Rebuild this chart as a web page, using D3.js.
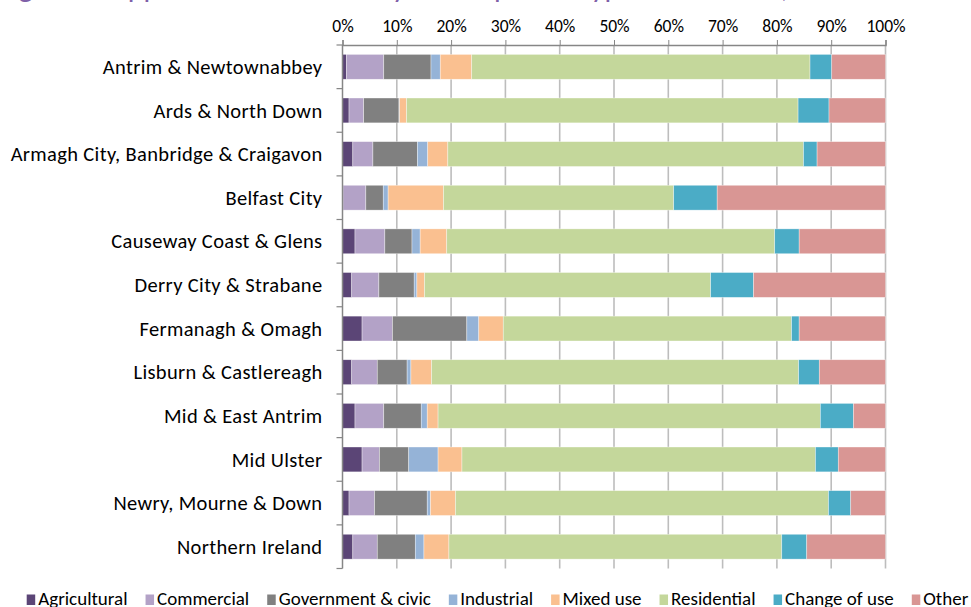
<!DOCTYPE html>
<html>
<head>
<meta charset="utf-8">
<script src="https://cdn.jsdelivr.net/npm/d3@7"></script>
<style>
  html, body { margin: 0; padding: 0; background: #fff; }
  svg { display: block; }
  text { font-family: Carlito, Calibri, Lato, "Noto Sans", sans-serif; fill: #000; }
</style>
</head>
<body>
<div class="chart"></div>
<script>
// categories (top to bottom)
var councils = [
  "Antrim & Newtownabbey",
  "Ards & North Down",
  "Armagh City, Banbridge & Craigavon",
  "Belfast City",
  "Causeway Coast & Glens",
  "Derry City & Strabane",
  "Fermanagh & Omagh",
  "Lisburn & Castlereagh",
  "Mid & East Antrim",
  "Mid Ulster",
  "Newry, Mourne & Down",
  "Northern Ireland"
];

// series, percentages (same order as councils)
var agricultural = [0.7, 1.2, 1.9, 0.1, 2.3, 1.7, 3.6, 1.7, 2.3, 3.6, 1.2, 1.9];
var commercial   = [6.9, 2.7, 3.7, 4.2, 5.5, 5.0, 5.6, 4.7, 5.3, 3.2, 4.7, 4.5];
var government   = [8.7, 6.5, 8.2, 3.2, 5.0, 6.5, 13.7, 5.5, 6.9, 5.4, 9.7, 7.0];
var industrial   = [1.7, 0.1, 1.9, 0.9, 1.5, 0.5, 2.2, 0.7, 1.1, 5.4, 0.6, 1.6];
var mixedUse     = [5.8, 1.3, 3.7, 10.2, 4.9, 1.4, 4.5, 3.8, 2.0, 4.4, 4.6, 4.6];
var residential  = [62.3, 72.1, 65.5, 42.4, 60.4, 52.7, 53.1, 67.6, 70.4, 65.1, 68.7, 61.3];
var changeOfUse  = [4.0, 5.7, 2.5, 8.0, 4.5, 7.9, 1.4, 3.8, 6.1, 4.2, 4.1, 4.6];
var other        = [9.9, 10.4, 12.6, 31.0, 15.9, 24.3, 15.9, 12.2, 5.9, 8.7, 6.4, 14.5];

var seriesNames = ["Agricultural", "Commercial", "Government & civic", "Industrial",
                   "Mixed use", "Residential", "Change of use", "Other"];
var seriesValues = [agricultural, commercial, government, industrial,
                    mixedUse, residential, changeOfUse, other];
var seriesColors = ["#5b4576", "#b3a2c7", "#808080", "#95b3d7",
                    "#fac090", "#c4d79b", "#4bacc6", "#d99694"];
var tickValues = [0, 0.1, 0.2, 0.3, 0.4, 0.5, 0.6, 0.7, 0.8, 0.9, 1];

var width = 971, height = 607;
var plotLeft = 342.5, plotRight = 885.5, plotTop = 45, plotBottom = 568.5;

var rows = councils.map(function(c, i) {
  var r = { council: c };
  seriesNames.forEach(function(s, j) { r[s] = seriesValues[j][i]; });
  return r;
});

var stacked = d3.stack()
  .keys(seriesNames)
  .offset(d3.stackOffsetExpand)(rows);

var x = d3.scaleLinear().domain([0, 1]).range([plotLeft, plotRight]);
var y = d3.scaleBand().domain(councils).range([plotTop, plotBottom])
  .paddingInner(0.43).paddingOuter(0.215);
var color = d3.scaleOrdinal().domain(seriesNames).range(seriesColors);

var svg = d3.select(".chart").append("svg")
  .attr("width", width)
  .attr("height", height);

// title, mostly cut off at the top of the picture
svg.append("text")
  .attr("x", -2)
  .attr("y", -3)
  .style("font-size", "30px")
  .style("fill", "#7f60a8")
  .text("Figure 4: Applications received by development type and council, 2017/18");

// vertical gridlines
svg.append("g").attr("id", "grid").selectAll("line")
  .data(tickValues.slice(1))
  .enter().append("line")
    .attr("x1", function(d) { return x(d); })
    .attr("x2", function(d) { return x(d); })
    .attr("y1", plotTop)
    .attr("y2", plotBottom)
    .attr("stroke", "#bdbdbd")
    .attr("stroke-width", 1.6);

// bars
var groups = svg.append("g").attr("id", "bars").selectAll("g")
  .data(stacked)
  .enter().append("g")
    .attr("fill", function(d) { return color(d.key); });

groups.selectAll("rect")
  .data(function(d) { return d; })
  .enter().append("rect")
    .attr("x", function(d) { return x(d[0]); })
    .attr("width", function(d) { return Math.max(0, x(d[1]) - x(d[0])); })
    .attr("y", function(d) { return y(d.data.council); })
    .attr("height", y.bandwidth())
    .attr("stroke", "#ffffff")
    .attr("stroke-opacity", 0.6)
    .attr("stroke-width", 0.6);

// top axis
var xAxis = d3.axisTop(x)
  .tickValues(tickValues)
  .tickFormat(d3.format(".0%"))
  .tickSize(5)
  .tickPadding(8);

var gx = svg.append("g")
  .attr("transform", "translate(0," + plotTop + ")")
  .call(xAxis);
gx.select(".domain").attr("stroke", "#868686").attr("stroke-width", 1.5);
gx.selectAll(".tick line").attr("stroke", "#868686");
gx.selectAll(".tick text")
  .style("font-size", "17.5px")
  .style("font-family", "Carlito, Calibri, Lato, sans-serif")
  .attr("fill", "#000");

// left axis: ticks sit between the categories
var step = y.step();
var boundaries = d3.range(councils.length + 1);
var gy = svg.append("g").attr("id", "yaxis");
gy.append("line")
  .attr("x1", plotLeft).attr("x2", plotLeft)
  .attr("y1", plotTop).attr("y2", plotBottom)
  .attr("stroke", "#868686").attr("stroke-width", 1.5);
gy.selectAll("line.tk")
  .data(boundaries)
  .enter().append("line")
    .attr("class", "tk")
    .attr("x1", plotLeft - 6).attr("x2", plotLeft)
    .attr("y1", function(i) { return plotTop + i * step; })
    .attr("y2", function(i) { return plotTop + i * step; })
    .attr("stroke", "#868686").attr("stroke-width", 1.2);
gy.selectAll("text")
  .data(councils)
  .enter().append("text")
    .attr("x", plotLeft - 20)
    .attr("y", function(d) { return y(d) + y.bandwidth() / 2; })
    .attr("dy", "0.35em")
    .attr("text-anchor", "end")
    .style("font-size", "20.5px")
    .style("letter-spacing", "0.35px")
    .text(function(d) { return d; });

// legend, centred under the plot
var legend = svg.append("g").attr("id", "legend");
var items = legend.selectAll("g")
  .data(seriesNames)
  .enter().append("g");
items.append("rect")
  .attr("x", 0).attr("y", -10.5)
  .attr("width", 8.5).attr("height", 10.5)
  .attr("fill", function(d) { return color(d); });
items.append("text")
  .attr("x", 11.5).attr("y", 0)
  .style("font-size", "19px")
  .text(function(d) { return d; });

var cursor = 0;
items.each(function() {
  var g = d3.select(this);
  var w = g.select("text").node().getComputedTextLength();
  g.attr("transform", "translate(" + cursor + ",0)");
  cursor += 11.5 + w + 18;
});
var total = cursor - 18;
legend.attr("transform", "translate(" + (497.5 - total / 2) + ",605)");
</script>
</body>
</html>
